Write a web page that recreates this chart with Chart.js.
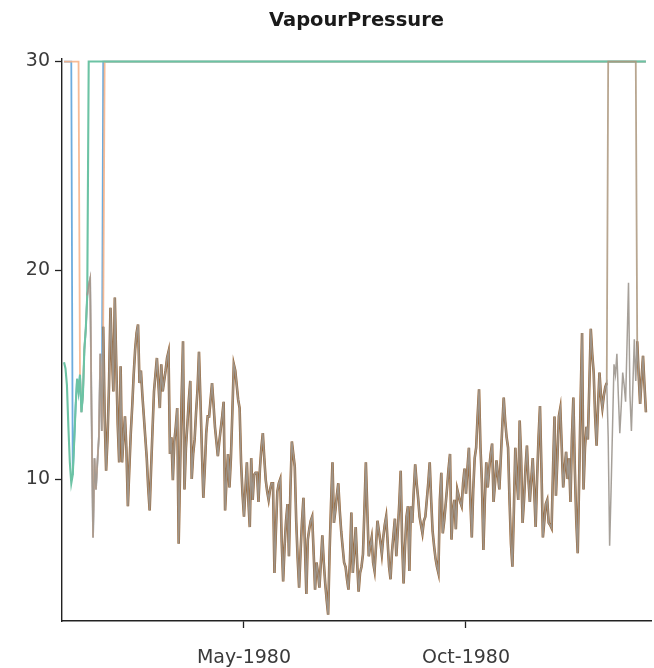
<!DOCTYPE html>
<html>
<head>
<meta charset="utf-8">
<script src="https://cdn.jsdelivr.net/npm/chart.js@4.4.0/dist/chart.umd.min.js"></script>
<style>
  html, body { margin: 0; padding: 0; background: #fff; }
  #wrap { width: 654px; height: 668px; position: relative; }
</style>
</head>
<body>
<div id="wrap"><canvas id="vpChart"></canvas></div>
<script>
// daily vapour pressure record, day 0 = 1980-01-01, first value is day -3
const firstDay = -3;
const vapourPressure = [
    15.6, 15.3, 14.5, 12.5, 10.8, 9.8, 10.2, 11.8, 13.5, 14.8,
    14.2, 15.0, 13.2, 14.0, 16.2, 17.2, 18.8, 19.3, 19.6, 13.0,
    7.2, 11.0, 9.5, 10.8, 12.0, 16.0, 12.3, 17.3, 13.0, 10.4,
    12.0, 14.5, 18.2, 16.0, 14.2, 18.7, 15.5, 12.6, 10.8, 15.4,
    10.8, 12.0, 13.0, 11.4, 8.7, 10.5, 12.2, 13.5, 15.0, 16.2,
    17.0, 17.4, 14.6, 15.2, 14.0, 13.0, 12.0, 11.0, 9.6, 8.5,
    10.5, 12.4, 14.2, 15.0, 15.8, 14.6, 13.4, 15.5, 14.2, 14.7,
    15.2, 15.8, 16.1, 11.2, 12.0, 9.95, 11.8, 12.5, 13.4, 6.9,
    10.5, 13.8, 16.6, 9.5, 11.5, 12.6, 13.8, 14.7, 10.0, 11.2,
    11.9, 13.2, 14.3, 16.1, 13.8, 11.4, 9.1, 10.5, 12.2, 13.0,
    13.0, 13.8, 14.6, 13.6, 12.5, 11.8, 11.1, 11.8, 12.4, 13.0,
    13.7, 8.5, 10.0, 11.2, 9.6, 11.0, 13.2, 15.5, 15.2, 14.5,
    13.8, 13.4, 10.8, 9.3, 8.2, 9.5, 10.8, 9.0, 7.7, 11.0,
    9.0, 10.2, 10.3, 10.3, 8.9, 10.5, 11.5, 12.2, 11.0, 9.95,
    9.4, 9.0, 9.5, 9.8, 9.8, 5.5, 7.5, 9.4, 9.8, 10.0,
    7.0, 5.1, 6.8, 8.0, 8.8, 6.3, 9.5, 11.8, 11.2, 10.6,
    8.0, 6.2, 4.8, 6.5, 8.0, 9.1, 6.8, 4.5, 7.1, 7.6,
    8.0, 8.2, 6.5, 4.7, 6.0, 5.5, 4.8, 6.0, 7.3, 6.0,
    5.0, 4.2, 3.5, 6.5, 8.8, 10.8, 7.9, 8.5, 9.2, 9.8,
    8.5, 7.5, 6.75, 6.0, 5.8, 5.2, 4.7, 6.0, 8.4, 5.5,
    6.5, 7.7, 6.0, 4.6, 5.5, 5.8, 6.4, 8.5, 10.8, 8.5,
    6.3, 6.8, 7.2, 6.0, 5.6, 6.8, 8.0, 7.5, 7.0, 6.4,
    7.2, 7.8, 8.2, 7.0, 5.8, 5.2, 6.5, 7.3, 8.1, 6.3,
    7.5, 8.8, 10.4, 7.0, 5.0, 6.8, 8.2, 8.7, 5.6, 8.7,
    7.9, 9.4, 10.7, 9.8, 9.1, 8.2, 7.8, 7.4, 8.0, 8.2,
    9.0, 9.8, 10.8, 9.0, 7.5, 6.8, 6.2, 5.8, 5.5, 9.0,
    10.3, 7.4, 8.0, 8.8, 9.6, 10.5, 11.2, 7.1, 8.5, 9.0,
    7.6, 9.5, 9.2, 8.9, 8.7, 9.8, 10.5, 9.3, 10.5, 11.5,
    9.0, 7.2, 9.5, 11.0, 11.5, 13.0, 14.3, 11.5, 9.8, 6.6,
    9.0, 10.8, 9.6, 10.5, 11.2, 11.7, 8.9, 9.8, 10.9, 10.2,
    9.5, 11.0, 12.5, 13.9, 12.8, 12.0, 11.5, 9.0, 6.9, 5.8,
    8.5, 11.5, 10.0, 9.0, 12.8, 11.0, 7.9, 9.0, 10.5, 11.6,
    10.0, 8.9, 10.0, 11.0, 9.5, 7.7, 10.0, 12.0, 13.5, 10.5,
    7.2, 8.0, 8.8, 9.0, 7.9, 7.8, 7.65, 10.5, 13.0, 9.2,
    11.0, 13.0, 13.4, 11.5, 9.6, 10.5, 11.3, 10.0, 11.0, 8.9,
    12.0, 13.9, 10.5, 8.0, 6.45, 10.0, 13.8, 17.0, 9.5, 11.5,
    12.5, 11.9, 14.5, 17.2, 16.0, 15.1, 13.0, 11.6, 13.5, 15.1,
    14.0, 13.4, 14.0, 14.4, 14.6, 12.0, 6.8, 9.5, 12.5, 15.5,
    15.0, 16.0, 14.0, 12.2, 13.5, 15.1, 14.5, 13.7, 16.5, 19.4,
    14.0, 12.3, 14.5, 16.7, 14.7, 16.6, 15.0, 13.6, 14.8, 15.9,
    14.5, 13.2
];

// outside these index ranges a run sits on the 30 ceiling
const ceiling = 30;
const blueRuns = [[6, 26]];
const orangeRuns = [[11, 27]];
const greenRuns = [[0, 16]];
const brownRuns = [[27, 374], [395, 401]];
// brown and grey have no values before these indices
const brownStart = 27;
const greyStart = 16;

const yTicks = [10, 20, 30];
const xTickDays = [121, 274];
const xTickLabels = ['May-1980', 'Oct-1980'];

function inRuns(i, runs) {
    return runs.some(r => i >= r[0] && i <= r[1]);
}

function buildRun(runs, start = 0) {
    return vapourPressure.map((v, i) => ({
        x: firstDay + i,
        y: i < start ? null : (inRuns(i, runs) ? v : ceiling)
    }));
}

const greyRun = vapourPressure.map((v, i) => ({
    x: firstDay + i,
    y: i >= greyStart ? v : null
}));

const lineStyle = {
    pointRadius: 0,
    tension: 0,
    fill: false,
    spanGaps: false
};

// brown pieces that touch the ceiling are drawn faint
const atCeiling = ctx => ctx.p0.parsed.y === ceiling || ctx.p1.parsed.y === ceiling;

const tickFont = { family: 'DejaVu Sans', size: 19 };

new Chart(document.getElementById('vpChart').getContext('2d'), {
    type: 'line',
    data: {
        datasets: [
            { ...lineStyle, data: greyRun, borderColor: 'rgba(158,152,144,0.92)', borderWidth: 1.5, order: 0 },
            {
                ...lineStyle, data: buildRun(brownRuns, brownStart), borderColor: '#9a693b', borderWidth: 2.6, order: 1,
                segment: {
                    borderColor: ctx => atCeiling(ctx) ? 'rgba(172,150,124,0.85)' : undefined,
                    borderWidth: ctx => atCeiling(ctx) ? 1.8 : undefined
                }
            },
            { ...lineStyle, data: buildRun(greenRuns), borderColor: '#6cc3a4', borderWidth: 2.1, order: 2 },
            { ...lineStyle, data: buildRun(orangeRuns), borderColor: 'rgba(246,180,138,0.9)', borderWidth: 1.8, order: 3 },
            { ...lineStyle, data: buildRun(blueRuns), borderColor: 'rgba(92,163,218,0.9)', borderWidth: 1.8, order: 4 }
        ]
    },
    options: {
        responsive: true,
        maintainAspectRatio: false,
        animation: false,
        devicePixelRatio: 1,
        layout: {
            padding: { left: 0, right: 3, top: 0, bottom: 0 }
        },
        plugins: {
            legend: { display: false },
            tooltip: { enabled: false },
            title: {
                display: true,
                text: 'VapourPressure',
                fullSize: false,
                color: '#1a1a1a',
                font: { family: 'DejaVu Sans', size: 19.5, weight: 'bold' },
                padding: { top: 9, bottom: 26 }
            }
        },
        scales: {
            x: {
                type: 'linear',
                min: -4.4,
                max: 401.5,
                afterBuildTicks: scale => {
                    scale.ticks = xTickDays.map(v => ({ value: v }));
                },
                afterFit: scale => { scale.height = 47; },
                ticks: {
                    font: tickFont,
                    color: '#3a3a3a',
                    padding: 19,
                    maxRotation: 0,
                    callback: value => xTickLabels[xTickDays.indexOf(value)]
                },
                grid: { drawOnChartArea: false, tickLength: 7, tickColor: '#222', tickWidth: 1.3 },
                border: { color: '#222', width: 1.4 }
            },
            y: {
                min: 3.2,
                max: 30.15,
                afterBuildTicks: scale => {
                    scale.ticks = yTicks.map(v => ({ value: v }));
                },
                afterFit: scale => { scale.width = 62; },
                ticks: { font: tickFont, color: '#3a3a3a', padding: 5 },
                grid: { drawOnChartArea: false, tickLength: 7, tickColor: '#222', tickWidth: 1.3 },
                border: { color: '#222', width: 1.4 }
            }
        }
    }
});
</script>
</body>
</html>
